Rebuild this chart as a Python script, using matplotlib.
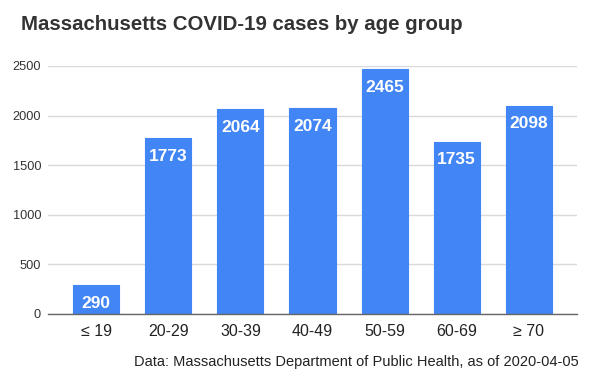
import matplotlib
matplotlib.use("Agg")
import matplotlib.pyplot as plt

categories = ["≤ 19", "20-29", "30-39", "40-49", "50-59", "60-69", "≥ 70"]
cases = [290, 1773, 2064, 2074, 2465, 1735, 2098]
yticks = [0, 500, 1000, 1500, 2000, 2500]

plt.rcParams['font.family'] = ['Liberation Sans', 'DejaVu Sans']

fig = plt.figure(figsize=(6, 3.73), dpi=100)
# axes: x 48..577 px, y 66..314 px
ax = fig.add_axes([48 / 600, (373 - 314) / 373, 529 / 600, 248 / 373])

x = list(range(len(categories)))
ax.bar(x, cases, width=0.64, color="#4285F4", edgecolor="#4285F4",
       linewidth=0.8, joinstyle="round", zorder=3)
for xi, v in zip(x, cases):
    ax.annotate(str(v), (xi, v), xytext=(0, -18), textcoords="offset pixels",
                ha="center", va="center", color="white", fontsize=12.5,
                fontweight="bold", zorder=4)

ax.set_xlim(-0.67, 6.67)
ax.set_ylim(0, 2500)
ax.set_yticks(yticks)
ax.set_yticklabels([str(t) for t in yticks], fontsize=9.2, color="#333333")
ax.set_xticks(x)
ax.set_xticklabels(categories, fontsize=11.5, color="#222222")
ax.tick_params(axis="both", length=0)
ax.tick_params(axis="y", pad=5)
ax.tick_params(axis="x", pad=7)
ax.grid(axis="y", color="#d9d9d9", linewidth=1, zorder=0)
ax.set_axisbelow(True)
for s in ["top", "right", "left"]:
    ax.spines[s].set_visible(False)
ax.spines["bottom"].set_color("#666666")
ax.spines["bottom"].set_linewidth(1)
ax.spines["bottom"].set_zorder(5)

fig.text(21 / 600, 1 - 30 / 373, "Massachusetts COVID-19 cases by age group",
         fontsize=14.7, fontweight="bold", color="#333333", ha="left", va="baseline")
fig.text(579 / 600, 1 - 366 / 373,
         "Data: Massachusetts Department of Public Health, as of 2020-04-05",
         fontsize=10.5, color="#222222", ha="right", va="baseline")

fig.savefig("out.png", dpi=100)
